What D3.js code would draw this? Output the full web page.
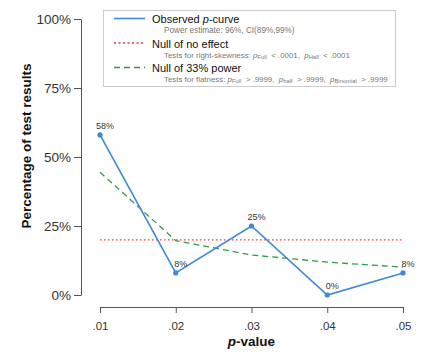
<!DOCTYPE html>
<html><head><meta charset="utf-8">
<script src="https://cdn.jsdelivr.net/npm/d3@7"></script>
<style>body{margin:0;background:#fff}svg{display:block;font-family:"Liberation Sans",Arial,sans-serif}</style>
</head><body><svg id="c" width="440" height="360"></svg>
<script>
const pValues = [0.01, 0.02, 0.03, 0.04, 0.05];
const xTickLabels = [".01", ".02", ".03", ".04", ".05"];
const observed = [58, 8, 25, 0, 8];
const observedLabels = ["58%", "8%", "25%", "0%", "8%"];
const nullNoEffect = [20, 20, 20, 20, 20];
const null33 = [44.5, 19.7, 14.5, 11.9, 10.1];
const yTicks = [0, 25, 50, 75, 100];

const svg = d3.select("#c");
const x = d3.scaleLinear().domain([0.01, 0.05]).range([100, 403]);
const y = d3.scaleLinear().domain([0, 100]).range([295, 19]);

const RED = "#ee3b3b", GREEN = "#2e9a45", BLUE = "#3d89d6";

// Y axis
const yAxis = svg.append("g").attr("transform", "translate(81,0)")
  .call(d3.axisLeft(y).tickValues(yTicks).tickFormat(d => d + "%").tickSize(7).tickPadding(3).tickSizeOuter(0));
yAxis.select(".domain").attr("stroke", "#555");
yAxis.selectAll(".tick line").attr("stroke", "#555");
yAxis.selectAll(".tick text").attr("font-size", 13.5).attr("fill", "#333").attr("font-family", "Liberation Sans, Arial, sans-serif");

// X axis
const xAxis = svg.append("g").attr("transform", "translate(0,307)")
  .call(d3.axisBottom(x).tickValues(pValues).tickFormat((d, i) => xTickLabels[i]).tickSize(6).tickPadding(9).tickSizeOuter(0));
xAxis.select(".domain").attr("stroke", "#555");
xAxis.selectAll(".tick line").attr("stroke", "#555");
xAxis.selectAll(".tick text").attr("font-size", 11.5).attr("fill", "#333").attr("font-family", "Liberation Sans, Arial, sans-serif");

// axis titles
svg.append("text").attr("transform", "translate(31,146) rotate(-90)").attr("text-anchor", "middle")
  .attr("font-size", 13.5).attr("font-weight", "bold").attr("fill", "#111").text("Percentage of test results");
const xt = svg.append("text").attr("x", 251.5).attr("y", 346).attr("text-anchor", "middle")
  .attr("font-size", 13.5).attr("font-weight", "bold").attr("fill", "#111");
xt.append("tspan").attr("font-style", "italic").text("p");
xt.append("tspan").text("-value");

const line = d3.line().x((d, i) => x(pValues[i])).y(d => y(d));

// null of no effect
svg.append("path").datum(nullNoEffect).attr("d", line).attr("fill", "none")
  .attr("stroke", RED).attr("stroke-width", 1.2).attr("stroke-dasharray", "1.5,2.5");
// null of 33% power
svg.append("path").datum(null33).attr("d", line).attr("fill", "none")
  .attr("stroke", GREEN).attr("stroke-width", 1.3).attr("stroke-dasharray", "6,4");
// observed
svg.append("path").datum(observed).attr("d", line).attr("fill", "none")
  .attr("stroke", BLUE).attr("stroke-width", 1.6);
svg.selectAll("circle.obs").data(observed).enter().append("circle")
  .attr("cx", (d, i) => x(pValues[i])).attr("cy", d => y(d)).attr("r", 2.6).attr("fill", BLUE);
svg.selectAll("text.lab").data(observed).enter().append("text")
  .attr("x", (d, i) => x(pValues[i]) + 5).attr("y", d => y(d) - 6).attr("text-anchor", "middle")
  .attr("font-size", 9).attr("fill", "#333").text((d, i) => observedLabels[i]);

// Legend
const lg = svg.append("g");
lg.append("rect").attr("x", 103.5).attr("y", 10.5).attr("width", 292).attr("height", 76)
  .attr("fill", "#fff").attr("stroke", "#ccc").attr("stroke-width", 1);
const items = [
  {y: 18.5, color: BLUE, dash: null, w: 1.6},
  {y: 43, color: RED, dash: "2,2.5", w: 1.5},
  {y: 67.5, color: GREEN, dash: "6,4", w: 1.3}
];
items.forEach(it => {
  lg.append("line").attr("x1", 114).attr("x2", 145).attr("y1", it.y).attr("y2", it.y)
    .attr("stroke", it.color).attr("stroke-width", it.w).attr("stroke-dasharray", it.dash);
});
const t1 = lg.append("text").attr("x", 152).attr("y", 22.5).attr("font-size", 11).attr("fill", "#111");
t1.append("tspan").text("Observed ");
t1.append("tspan").attr("font-style", "italic").text("p");
t1.append("tspan").text("-curve");
lg.append("text").attr("x", 164).attr("y", 32.5).attr("font-size", 8.2).attr("fill", "#777")
  .text("Power estimate: 96%, CI(89%,99%)");
lg.append("text").attr("x", 152).attr("y", 47.5).attr("font-size", 11).attr("fill", "#111").text("Null of no effect");
function subLine(yv, parts) {
  const t = lg.append("text").attr("x", 164).attr("y", yv).attr("font-size", 7.9).attr("fill", "#777")
    .attr("xml:space", "preserve").style("white-space", "pre");
  parts.forEach(p => {
    if (p.t === "p") {
      t.append("tspan").attr("font-style", "italic").text("p");
      t.append("tspan").attr("font-size", 5.8).attr("dy", 1.5).text(p.s);
      t.append("tspan").attr("dy", -1.5).text(p.after);
    } else t.append("tspan").text(p.s);
  });
}
subLine(57.5, [{s: "Tests for right-skewness: "}, {t: "p", s: "Full", after: "  < .0001,  "}, {t: "p", s: "Half", after: "  < .0001"}]);
lg.append("text").attr("x", 152).attr("y", 71.5).attr("font-size", 11).attr("fill", "#111").text("Null of 33% power");
subLine(81.5, [{s: "Tests for flatness: "}, {t: "p", s: "Full", after: "  > .9999,  "}, {t: "p", s: "half", after: "  > .9999,  "}, {t: "p", s: "Binomial", after: "  > .9999"}]);
</script></body></html>
